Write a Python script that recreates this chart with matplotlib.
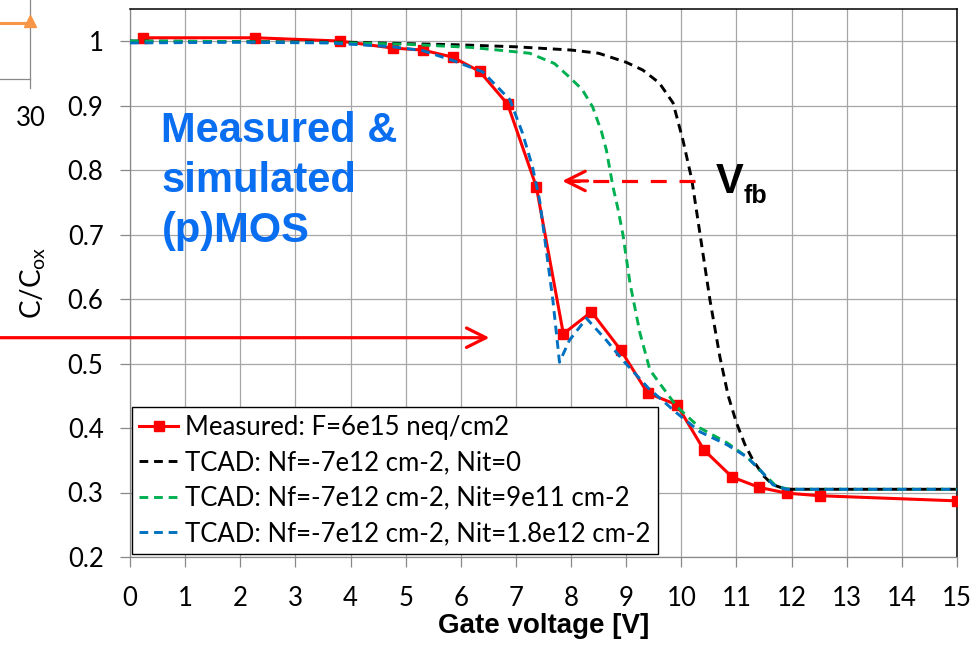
import matplotlib
matplotlib.use("Agg")
import matplotlib.pyplot as plt
from matplotlib.lines import Line2D

plt.rcParams["font.family"] = ["Lato", "DejaVu Sans"]

# Measured C/Cox after irradiation
meas_v = [0.23, 2.27, 3.8, 4.77, 5.31, 5.85, 6.34, 6.85, 7.37, 7.86, 8.37, 8.9,
          9.39, 9.92, 10.41, 10.92, 11.41, 11.91, 12.51, 15.0]
meas_c = [1.005, 1.005, 1.0, 0.989, 0.986, 0.975, 0.953, 0.902, 0.774, 0.546, 0.58,
          0.521, 0.454, 0.436, 0.366, 0.324, 0.308, 0.299, 0.295, 0.287]

# TCAD, Nit = 0
nit0_v = [0, 2, 4, 5, 6, 7, 8, 8.5, 9, 9.3, 9.6, 9.85, 10.03, 10.19, 10.34, 10.52,
          10.7, 10.85, 11.0, 11.15, 11.3, 11.5, 11.66, 11.9, 12.5, 15]
nit0_c = [1.0, 0.999, 0.998, 0.996, 0.994, 0.991, 0.986, 0.981, 0.967, 0.955, 0.935,
          0.904, 0.846, 0.785, 0.70, 0.598, 0.51, 0.45, 0.408, 0.375, 0.35, 0.325,
          0.312, 0.305, 0.305, 0.305]

# TCAD, Nit = 9e11
nit9_v = [0, 2, 4, 5, 6.2, 7.25, 7.7, 7.97, 8.2, 8.39, 8.55, 8.64, 8.76, 8.85, 8.94,
          9.07, 9.25, 9.43, 9.6, 9.92, 10.34, 10.83, 11.19, 11.48, 11.73, 11.97, 15]
nit9_c = [1.0, 0.999, 0.997, 0.995, 0.99, 0.981, 0.965, 0.944, 0.925, 0.898, 0.86,
          0.831, 0.774, 0.74, 0.70, 0.624, 0.547, 0.49, 0.47, 0.433, 0.40, 0.377,
          0.355, 0.33, 0.309, 0.305, 0.305]

# TCAD, Nit = 1.8e12
nit18_v = [0, 2, 3.63, 4.77, 5.31, 5.85, 6.4, 6.89, 7.12, 7.3, 7.43, 7.55, 7.67, 7.79,
           7.97, 8.28, 8.64, 8.94, 9.4, 9.92, 10.34, 10.83, 11.19, 11.43, 11.66, 11.9, 15]
nit18_c = [0.997, 0.998, 0.997, 0.991, 0.985, 0.97, 0.952, 0.909, 0.857, 0.805, 0.753,
           0.676, 0.598, 0.502, 0.536, 0.57, 0.536, 0.505, 0.462, 0.423, 0.394, 0.374,
           0.355, 0.335, 0.312, 0.305, 0.305]

labels = [
    "Measured: F=6e15 neq/cm2",
    "TCAD: Nf=-7e12 cm-2, Nit=0",
    "TCAD: Nf=-7e12 cm-2, Nit=9e11 cm-2",
    "TCAD: Nf=-7e12 cm-2, Nit=1.8e12 cm-2",
]
x_ticks = list(range(0, 16))
y_ticks = [0.2, 0.3, 0.4, 0.5, 0.6, 0.7, 0.8, 0.9, 1.0]
y_ticklabels = ["0.2", "0.3", "0.4", "0.5", "0.6", "0.7", "0.8", "0.9", "1"]

W, H = 975, 656
fig = plt.figure(figsize=(W / 100, H / 100), dpi=100)
ax = fig.add_axes([130 / W, (H - 557) / H, (957 - 130) / W, (557 - 8.75) / H])

grid_c = "#A6A6A6"
ax.plot(meas_v, meas_c, color="#FF0000", lw=2.2, marker="s", ms=7.5, label=labels[0], zorder=3)
ax.plot(nit0_v, nit0_c, color="black", lw=2.1, dashes=(3, 2), label=labels[1], zorder=3)
ax.plot(nit9_v, nit9_c, color="#00B050", lw=2.1, dashes=(3, 2), label=labels[2], zorder=3)
ax.plot(nit18_v, nit18_c, color="#0070C0", lw=2.1, dashes=(3, 2), label=labels[3], zorder=3)

ax.set_xlim(0, 15)
ax.set_ylim(0.2, 1.05)
ax.set_xticks(x_ticks)
ax.set_yticks(y_ticks)
ax.set_yticklabels(y_ticklabels)
ax.grid(True, color=grid_c, lw=0.9)
ax.set_axisbelow(True)
ax.tick_params(axis="both", direction="out", length=7, width=0.9, color="#888888",
               labelsize=18.5)
ax.tick_params(axis="y", pad=12)
ax.tick_params(axis="x", pad=14)
for s in ("left", "bottom"):
    ax.spines[s].set_color("#888888")
    ax.spines[s].set_linewidth(0.9)
for s in ("top", "right"):
    ax.spines[s].set_color("black")
    ax.spines[s].set_linewidth(1.1)

ax.set_xlabel("Gate voltage [V]", fontsize=20, fontweight="bold",
              family=["Liberation Sans", "DejaVu Sans"], labelpad=1)
ax.set_ylabel(r"C/C$_{\mathregular{ox}}$", fontsize=20, labelpad=14)

leg = ax.legend(loc="lower left", bbox_to_anchor=(0.002, 0.006), fontsize=18.5,
                frameon=True, fancybox=False, edgecolor="black", framealpha=1,
                handlelength=1.5, handletextpad=0.28, labelspacing=0.4,
                borderpad=0.3, borderaxespad=0)
leg.get_frame().set_linewidth(1.0)

# annotation text
blue_txt = "#0A6EF0"
for yy, line in zip([0.843, 0.766, 0.689], ["Measured &", "simulated", "(p)MOS"]):
    ax.text(0.57, yy, line, color=blue_txt, fontsize=30, fontweight="bold",
            family=["Liberation Sans", "DejaVu Sans"], va="baseline", ha="left")

ax.text(10.62, 0.764, "V", fontsize=30, fontweight="bold",
        family=["Liberation Sans", "DejaVu Sans"], va="baseline")
ax.text(11.13, 0.749, "fb", fontsize=18, fontweight="bold",
        family=["Liberation Sans", "DejaVu Sans"], va="baseline")

# flat-band shift arrow (dashed shaft, solid head)
ax.plot([10.24, 7.95], [0.783, 0.783], color="#FF0000", lw=2.3, dashes=(5, 4), zorder=4)
ax.annotate("", xy=(7.84, 0.783), xytext=(8.3, 0.783),
            arrowprops=dict(arrowstyle="->,head_length=1.0,head_width=0.5",
                            color="#FF0000", lw=2.3, mutation_scale=14,
                            shrinkA=0, shrinkB=0), zorder=4)

# horizontal arrow coming in from the left panel
ax.annotate("", xy=(6.52, 0.54), xytext=(-2.4, 0.54),
            arrowprops=dict(arrowstyle="->,head_length=1.0,head_width=0.5",
                            color="#FF0000", lw=2.3, mutation_scale=14,
                            shrinkA=0, shrinkB=0),
            annotation_clip=False, zorder=5)

# corner of the neighbouring panel
def px(x, y):
    return x / W, 1 - y / H

fig.add_artist(Line2D(*zip(px(30, 0), px(30, 88)), color="#888888", lw=0.9))
fig.add_artist(Line2D(*zip(px(0, 79), px(30, 79)), color="#888888", lw=0.9))
fig.add_artist(Line2D(*zip(px(0, 23), px(30, 23)), color="#F79646", lw=2.2))
fig.add_artist(Line2D([px(30, 21)[0]], [px(30, 21)[1]], color="#F79646",
                      marker="^", ms=8, lw=0))
fig.text(px(31, 118)[0], px(31, 118)[1], "30", fontsize=18.5, ha="center", va="center")

fig.savefig("out.png", dpi=100)
